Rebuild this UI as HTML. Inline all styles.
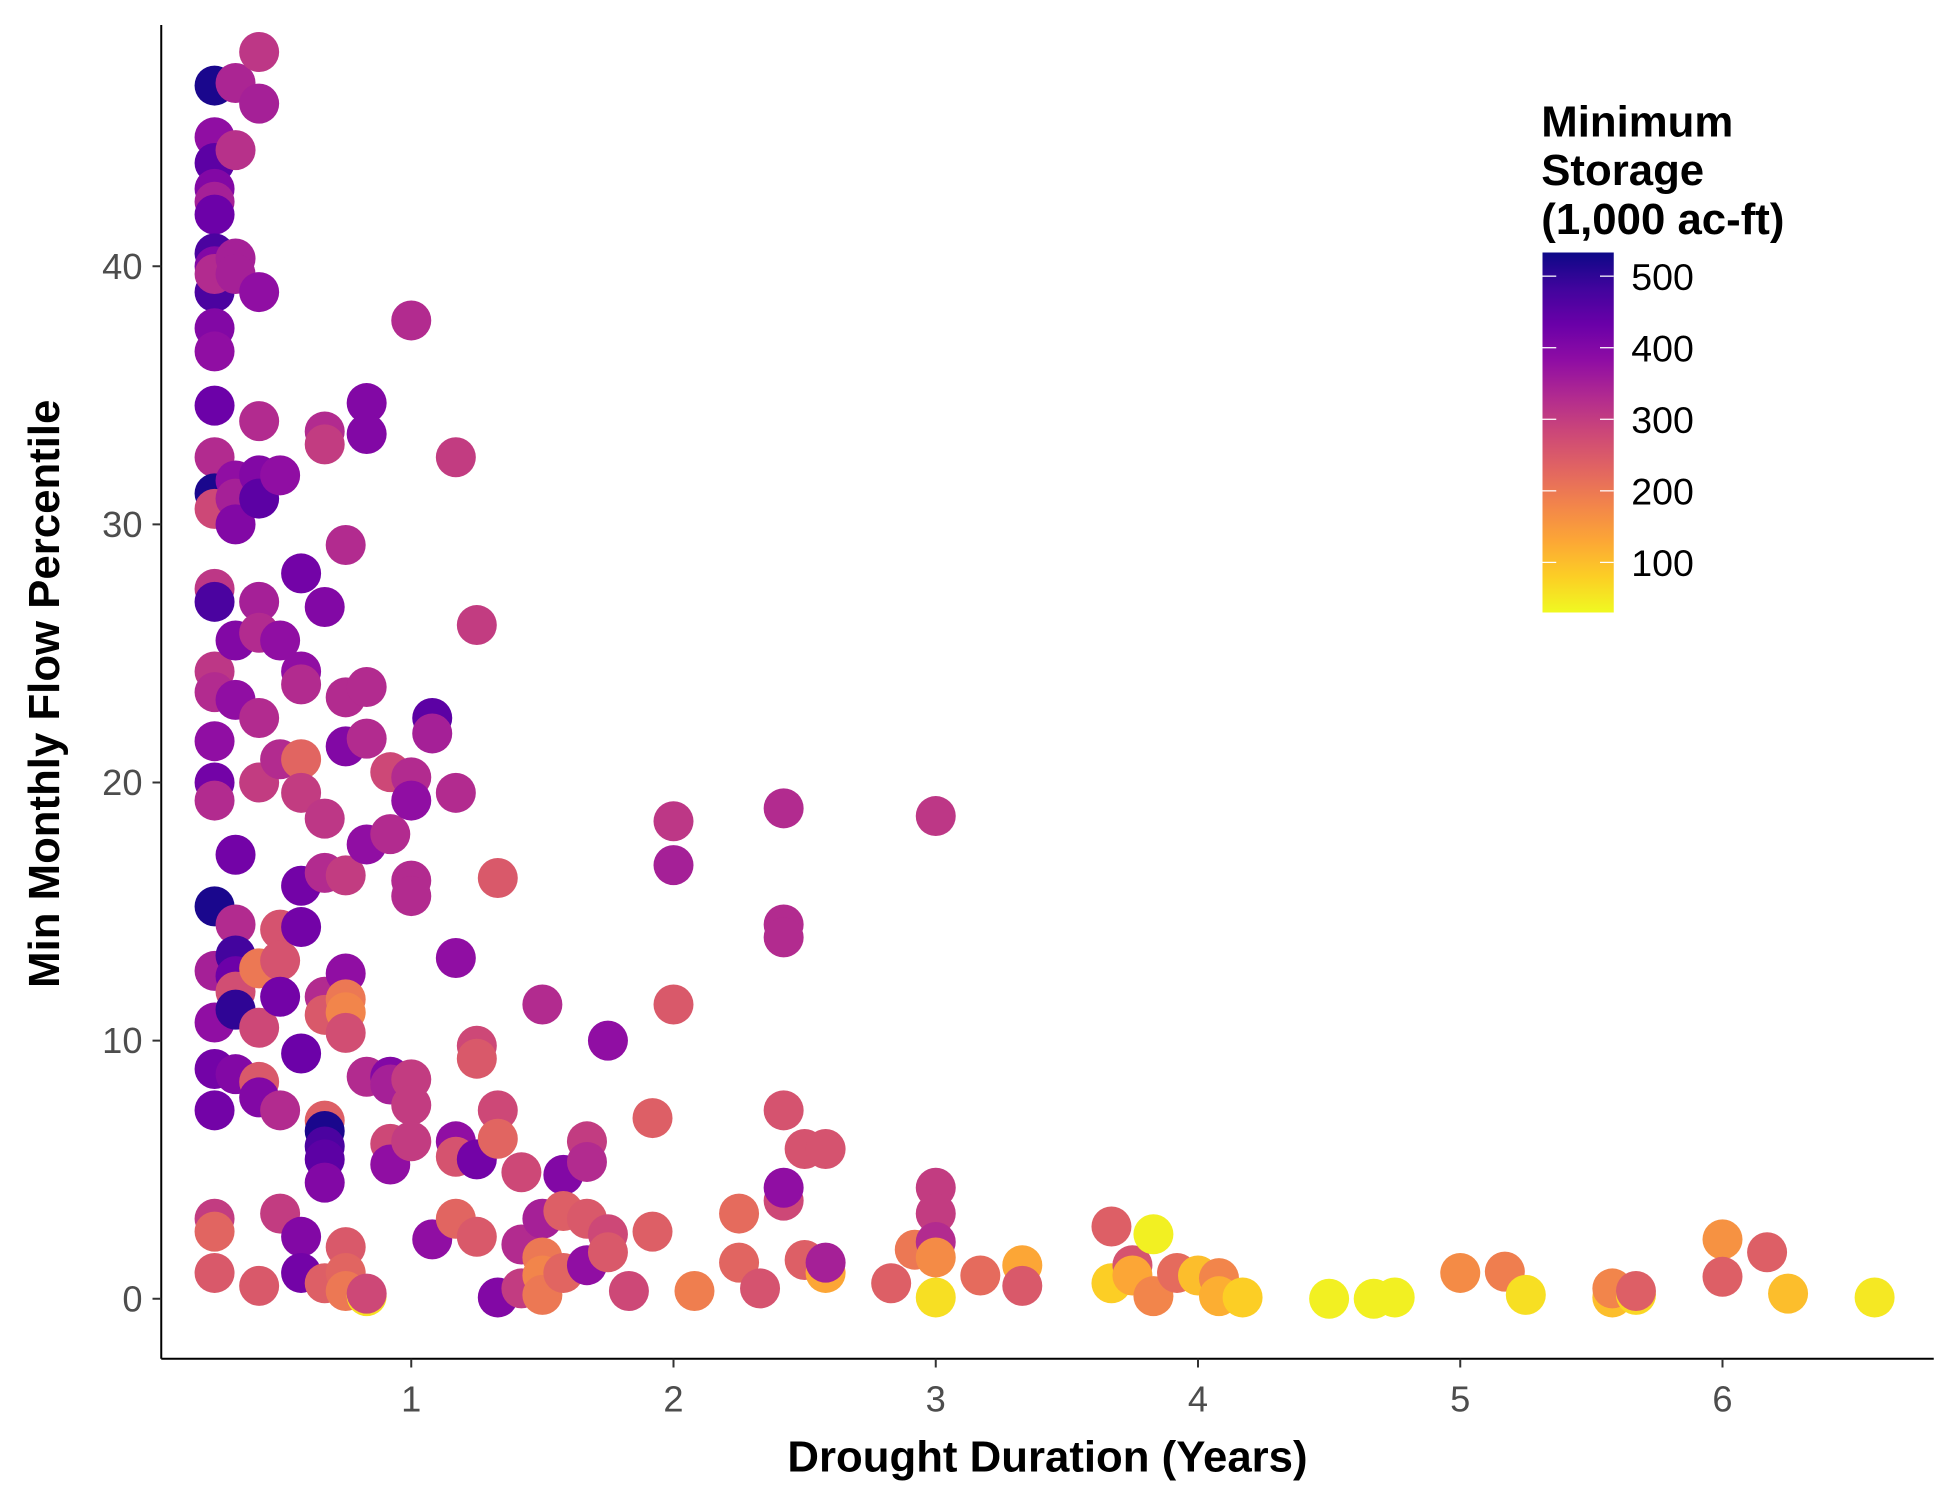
<!DOCTYPE html>
<html><head><meta charset="utf-8"><style>
html,body{margin:0;padding:0;background:#fff;}
svg{display:block;font-family:"Liberation Sans",Arial,sans-serif;}
</style></head><body>
<svg id="chart" width="1950" height="1500" viewBox="0 0 1560 1200" xmlns="http://www.w3.org/2000/svg">
<defs>
<linearGradient id="cbar" x1="0" y1="1" x2="0" y2="0">
<stop offset="0" stop-color="#f0f921"/><stop offset="0.1" stop-color="#fcce25"/><stop offset="0.2" stop-color="#fca636"/><stop offset="0.3" stop-color="#f2844b"/><stop offset="0.4" stop-color="#e16462"/><stop offset="0.5" stop-color="#cc4778"/><stop offset="0.6" stop-color="#b12a90"/><stop offset="0.7" stop-color="#8f0da4"/><stop offset="0.8" stop-color="#6a00a8"/><stop offset="0.9" stop-color="#41049d"/><stop offset="1" stop-color="#0d0887"/>
</linearGradient>
</defs>
<g id="points"></g>
<g id="axes"></g>
<text x="838" y="1177" text-anchor="middle" font-size="35" font-weight="bold">Drought Duration (Years)</text>
<text transform="translate(47,555) rotate(-90)" text-anchor="middle" font-size="35" font-weight="bold">Min Monthly Flow Percentile</text>
<g>
<text font-size="35" font-weight="bold"><tspan x="1233" y="109">Minimum</tspan><tspan x="1233" y="148">Storage</tspan><tspan x="1233" y="187">(1,000 ac-ft)</tspan></text>
<rect x="1234" y="202" width="57" height="288" fill="url(#cbar)"/>
<g id="cbticks"></g>
</g>
</svg>
<script>
const xs = [0.25,0.25,0.25,0.25,0.25,0.25,0.25,0.25,0.25,0.25,0.25,0.25,0.25,0.25,0.25,0.25,0.25,0.25,0.25,0.25,0.25,0.25,0.25,0.25,0.25,0.25,0.25,0.25,0.25,0.25,0.25,
0.33,0.33,0.33,0.33,0.33,0.33,0.33,0.33,0.33,0.33,0.33,0.33,0.33,0.33,0.33,0.33,
0.42,0.42,0.42,0.42,0.42,0.42,0.42,0.42,0.42,0.42,0.42,0.42,0.42,0.42,0.42,
0.5,0.5,0.5,0.5,0.5,0.5,0.5,0.5,
0.58,0.58,0.58,0.58,0.58,0.58,0.58,0.58,0.58,0.58,
0.67,0.67,0.67,0.67,0.67,0.67,0.67,0.67,0.67,0.67,0.67,0.67,0.67,
0.75,0.75,0.75,0.75,0.75,0.75,0.75,0.75,0.75,0.75,0.75,
0.83,0.83,0.83,0.83,0.83,0.83,0.83,0.83,
0.92,0.92,0.92,0.92,0.92,0.92,
1,1,1,1,1,1,1,1,
1.08,1.08,1.08,
1.17,1.17,1.17,1.17,1.17,1.17,
1.25,1.25,1.25,1.25,1.25,
1.33,1.33,1.33,1.33,
1.42,1.42,1.42,
1.5,1.5,1.5,1.5,1.5,
1.58,1.58,1.58,
1.67,1.67,1.67,1.67,
1.75,1.75,1.75,
1.83,1.92,1.92,2,2,2,2.08,2.25,2.25,2.33,
2.42,2.42,2.42,2.42,2.42,2.42,
2.5,2.5,2.58,2.58,2.58,2.83,2.92,
3,3,3,3,3,3,3.17,3.33,3.33,3.67,3.67,3.75,3.75,3.83,3.83,3.92,4,4.08,4.08,4.17,4.5,4.67,4.75,5,5.17,5.25,5.58,5.58,5.67,5.67,6,6,6.17,6.25,6.58];
const ys = [47,45,44,43,42.5,42,40.5,40,39,39.7,37.6,36.7,34.6,32.6,31.2,30.6,27.5,27,24.3,23.5,21.6,20,19.3,15.2,12.7,10.7,8.9,7.3,3.1,2.6,1.0,
47.1,44.5,40.3,39.7,31.7,31,30,25.5,23.2,17.2,14.5,13.3,12.5,11.9,11.2,8.7,
48.3,46.3,39,34,31.9,31,27,25.8,22.5,20,12.8,10.5,8.4,7.8,0.5,
31.9,25.5,20.9,14.3,13.1,11.7,7.3,3.3,
28.1,24.3,23.8,20.9,19.6,16,14.4,9.5,2.4,1.0,
33.6,33.1,26.8,18.6,16.5,11.7,11,6.9,6.5,5.9,5.4,4.5,0.6,
29.2,23.3,21.4,16.4,12.6,11.6,11.1,10.3,2,1,0.3,
34.7,33.5,23.7,21.7,17.6,8.6,0.1,0.2,
20.4,18,8.6,8.3,6,5.2,
37.9,20.2,19.3,16.2,15.6,8.5,7.5,6.1,
22.5,21.9,2.3,
32.6,19.6,13.2,6.1,5.5,3.1,
26.1,9.8,9.3,5.4,2.4,
16.3,7.3,6.2,0.05,
4.9,2.1,0.4,
11.4,3.1,1.6,0.9,0.15,
4.8,3.4,1,
6.1,5.3,3.1,1.3,
10,2.5,1.8,
0.3,7,2.6,18.5,16.8,11.4,0.3,3.3,1.4,0.4,
19,14.5,14,7.3,3.8,4.3,
5.8,1.5,5.8,1,1.4,0.6,1.9,
18.7,4.3,3.3,2.2,1.6,0.05,0.9,1.3,0.5,2.8,0.6,1.3,0.9,2.5,0.1,1,0.9,0.8,0.1,0.05,0,0,0.05,1,1.05,0.15,0.05,0.4,0.15,0.3,2.3,0.85,1.8,0.2,0.05];
const storage = [520,380,450,400,350,430,470,400,470,330,400,380,430,330,520,280,310,470,310,330,380,420,330,520,350,380,420,420,300,230,250,
340,320,350,350,380,350,400,400,380,420,330,480,430,270,500,400,
310,350,380,330,400,450,350,330,330,300,200,280,250,400,250,
380,380,330,260,260,420,330,300,
420,380,330,230,300,420,420,430,400,420,
330,300,400,310,330,330,250,240,520,470,450,400,240,
330,330,400,300,380,200,180,270,250,230,200,
400,400,330,330,380,330,60,280,
280,330,400,350,280,380,
330,330,380,330,330,300,300,300,
450,350,380,
300,330,380,380,260,230,
300,280,250,420,250,
250,280,230,400,
280,330,300,
330,350,200,180,200,
400,240,230,
300,330,250,380,
380,280,250,
280,240,240,310,350,250,190,220,230,260,
330,330,330,260,280,380,
260,240,260,130,350,240,200,
310,300,300,330,170,60,220,130,250,240,80,260,130,40,180,220,100,180,120,80,40,40,40,170,190,60,100,180,70,240,160,240,240,100,50];
const xTicks = [1,2,3,4,5,6];
const yTicks = [0,10,20,30,40];
const cbTicks = [100,200,300,400,500];

const NS = 'http://www.w3.org/2000/svg';
const xScale = v => 119.2 + v * 209.8;
const yScale = v => 1039 - v * 20.65;
const cScale = v => 490 - (v - 30) * 0.5725;
const stops = ['#0d0887','#41049d','#6a00a8','#8f0da4','#b12a90','#cc4778','#e16462','#f2844b','#fca636','#fcce25','#f0f921'];
function hex(h){return [1,3,5].map(i=>parseInt(h.substr(i,2),16));}
function plasma(v){
  let t = (533 - v) / (533 - 30);
  t = Math.max(0, Math.min(1, t));
  const p = t * 10, i = Math.min(9, Math.floor(p)), f = p - i;
  const a = hex(stops[i]), b = hex(stops[i+1]);
  return 'rgb(' + a.map((c,k)=>Math.round(c + (b[k]-c)*f)).join(',') + ')';
}
function mk(tag, attrs){const e=document.createElementNS(NS,tag);for(const k in attrs)e.setAttribute(k,attrs[k]);return e;}

const pts = document.getElementById('points');
for (let i = 0; i < xs.length; i++) {
  const c = mk('circle', {cx: xScale(xs[i]), cy: yScale(ys[i]), r: 16, fill: plasma(storage[i])});
  
  
  pts.appendChild(c);
}

const ax = document.getElementById('axes');
const xl = mk('line', {x1:129, y1:1087, x2:1547, y2:1087, stroke:'#000', 'stroke-width':1.6});


ax.appendChild(xl);
const yl = mk('line', {x1:129, y1:20, x2:129, y2:1087, stroke:'#000', 'stroke-width':1.6});


ax.appendChild(yl);
xTicks.forEach(v => {
  const x = xScale(v);
  const t = mk('line', {x1:x, y1:1087, x2:x, y2:1094, stroke:'#333', 'stroke-width':1.6});
  
  
  ax.appendChild(t);
  const l = mk('text', {x:x, y:1129, 'text-anchor':'middle', 'font-size':29, fill:'#4d4d4d'});
  l.textContent = v;
  
  
  ax.appendChild(l);
});
yTicks.forEach(v => {
  const y = yScale(v);
  const t = mk('line', {x1:122, y1:y, x2:129, y2:y, stroke:'#333', 'stroke-width':1.6});
  
  
  ax.appendChild(t);
  const l = mk('text', {x:114, y:y+10, 'text-anchor':'end', 'font-size':29, fill:'#4d4d4d'});
  l.textContent = v;
  
  
  ax.appendChild(l);
});
const cb = document.getElementById('cbticks');
cbTicks.forEach(v => {
  const y = cScale(v);
  [[1234,1245],[1280,1291]].forEach(s => {
    const t = mk('line', {x1:s[0], y1:y, x2:s[1], y2:y, stroke:'#fff', 'stroke-width':1});
    
    
    cb.appendChild(t);
  });
  const l = mk('text', {x:1305, y:y+11, 'font-size':30, fill:'#000'});
  l.textContent = v;
  
  
  cb.appendChild(l);
});
</script>
</body></html>
